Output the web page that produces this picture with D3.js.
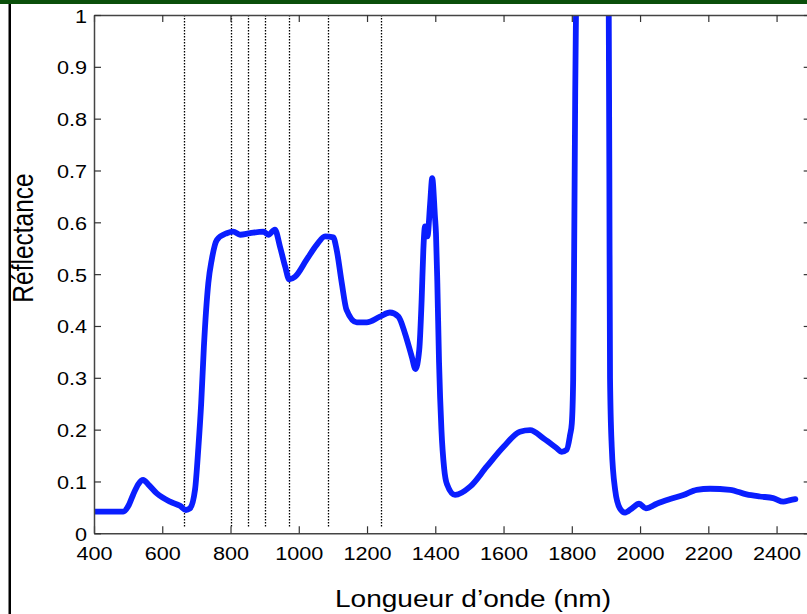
<!DOCTYPE html>
<html>
<head>
<meta charset="utf-8">
<script src="https://cdn.jsdelivr.net/npm/d3@7"></script>
<style>
  body { margin: 0; background: #fff; }
  svg { display: block; }
  text { font-family: "Liberation Sans", Arial, Helvetica, sans-serif; fill: #000; }
</style>
</head>
<body>
<svg id="chart"></svg>
<script>
// spectrum (nm, reflectance)
const wavelength = [400, 440, 486, 500, 515, 530, 544, 558, 584, 623, 652, 669, 681, 696, 706, 714, 722, 735, 745, 760, 789, 808, 828, 857, 896, 911, 930, 945, 960, 972, 989, 1023, 1053, 1077, 1101, 1111, 1126, 1140, 1170, 1199, 1238, 1267, 1292, 1311, 1331, 1342, 1353, 1360, 1365, 1370, 1377, 1385, 1391, 1399, 1402, 1406, 1411, 1418, 1426, 1434, 1458, 1502, 1551, 1600, 1648, 1678, 1717, 1756, 1770, 1785, 1795, 1800, 1804, 1807, 1810, 1813, 1818, 1903, 1908, 1910, 1912, 1917, 1927, 1941, 1956, 1976, 1997, 2017, 2049, 2088, 2127, 2166, 2205, 2264, 2312, 2351, 2390, 2420, 2440, 2455];
const reflectance = [0.042, 0.042, 0.042, 0.052, 0.075, 0.095, 0.103, 0.095, 0.077, 0.061, 0.053, 0.045, 0.048, 0.084, 0.167, 0.25, 0.36, 0.483, 0.528, 0.566, 0.579, 0.582, 0.576, 0.579, 0.582, 0.576, 0.586, 0.553, 0.515, 0.49, 0.495, 0.528, 0.557, 0.573, 0.571, 0.547, 0.483, 0.431, 0.407, 0.407, 0.418, 0.426, 0.418, 0.386, 0.341, 0.317, 0.354, 0.45, 0.547, 0.592, 0.573, 0.637, 0.685, 0.611, 0.579, 0.483, 0.33, 0.2, 0.125, 0.095, 0.074, 0.09, 0.129, 0.167, 0.196, 0.199, 0.183, 0.164, 0.157, 0.161, 0.19, 0.212, 0.296, 0.55, 0.85, 1.05, 1.5, 1.5, 1.05, 0.7, 0.3, 0.167, 0.084, 0.048, 0.04, 0.048, 0.057, 0.048, 0.057, 0.066, 0.074, 0.084, 0.086, 0.084, 0.075, 0.071, 0.068, 0.061, 0.064, 0.066];

// dotted band markers
const bandLines = [665, 800, 852, 902, 970, 1085, 1242];

const xTicks = [400, 600, 800, 1000, 1200, 1400, 1600, 1800, 2000, 2200, 2400];
const yTicks = [0, 0.1, 0.2, 0.3, 0.4, 0.5, 0.6, 0.7, 0.8, 0.9, 1];

const W = 807, H = 614;
const m = { left: 94, top: 15, right: 810.7, bottom: 533.3 };
const stretch = 1.17; // text looks horizontally widened in the original

const svg = d3.select('#chart')
    .attr('width', W)
    .attr('height', H);

// frame bits from the surrounding page
svg.append('rect').attr('x', 0).attr('y', 0).attr('width', W).attr('height', 4).attr('fill', '#0a4f0a');
svg.append('rect').attr('x', 8.5).attr('y', 4).attr('width', 2.5).attr('height', H - 4).attr('fill', '#000');

const x = d3.scaleLinear().domain([400, 2500]).range([m.left, m.right]);
const y = d3.scaleLinear().domain([0, 1]).range([m.bottom, m.top]);

svg.append('clipPath').attr('id', 'plotclip')
    .append('rect')
    .attr('x', m.left).attr('y', m.top)
    .attr('width', m.right - m.left).attr('height', m.bottom - m.top);

// vertical dotted lines
svg.append('g').selectAll('line')
    .data(bandLines)
    .enter()
    .append('line')
    .attr('x1', d => Math.round(x(d)) + 0.5).attr('x2', d => Math.round(x(d)) + 0.5)
    .attr('y1', y(1)).attr('y2', y(0.01))
    .attr('stroke', '#000')
    .attr('stroke-width', 1.3)
    .attr('stroke-dasharray', '1.5,1.5');

// spectrum
const pts = wavelength.map((w, i) => [w, reflectance[i]]);
const line = d3.line()
    .x(d => x(d[0]))
    .y(d => y(d[1]))
    .curve(d3.curveMonotoneX);

svg.append('path')
    .datum(pts)
    .attr('clip-path', 'url(#plotclip)')
    .attr('d', line)
    .attr('fill', 'none')
    .attr('stroke', '#0a1eff')
    .attr('stroke-width', 5.8)
    .attr('stroke-linejoin', 'round')
    .attr('stroke-linecap', 'round');

// axes box (MATLAB style, ticks inside)
function styleAxis(g) {
    g.selectAll('.domain').attr('stroke', '#444').attr('stroke-width', 1.5);
    g.selectAll('.tick line').attr('stroke', '#333').attr('stroke-width', 1.2);
}

const gx = svg.append('g')
    .attr('transform', `translate(0,${m.bottom})`)
    .call(d3.axisBottom(x).tickValues(xTicks).tickSizeInner(-7).tickSizeOuter(0).tickFormat(d3.format('d')))
    .call(styleAxis);
gx.selectAll('.tick text')
    .attr('y', 0).attr('dy', 0)
    .attr('transform', `translate(0,26.5) scale(${stretch},1)`)
    .attr('font-size', 18.5)
    .attr('fill', '#000');

svg.append('g')
    .attr('transform', `translate(0,${m.top})`)
    .call(d3.axisTop(x).tickValues(xTicks).tickSizeInner(-7).tickSizeOuter(0).tickFormat(''))
    .call(styleAxis);

const gy = svg.append('g')
    .attr('transform', `translate(${m.left},0)`)
    .call(d3.axisLeft(y).tickValues(yTicks).tickSizeInner(-7).tickSizeOuter(0).tickFormat(d => String(+d.toFixed(1))))
    .call(styleAxis);
gy.selectAll('.tick text')
    .attr('x', 0).attr('dy', 0)
    .attr('transform', `translate(-7,7) scale(${stretch},1)`)
    .attr('font-size', 18.5)
    .attr('fill', '#000');

svg.append('g')
    .attr('transform', `translate(${m.right},0)`)
    .call(d3.axisRight(y).tickValues(yTicks).tickSizeInner(-7).tickSizeOuter(0).tickFormat(''))
    .call(styleAxis);

// axis titles
svg.append('text')
    .attr('text-anchor', 'middle')
    .attr('transform', `translate(473,606.5) scale(${stretch},1)`)
    .attr('font-size', 24)
    .text('Longueur d’onde (nm)');

svg.append('text')
    .attr('text-anchor', 'middle')
    .attr('transform', `translate(33,238) scale(${stretch},1) rotate(-90)`)
    .attr('font-size', 24.5)
    .text('Réflectance');
</script>
</body>
</html>
